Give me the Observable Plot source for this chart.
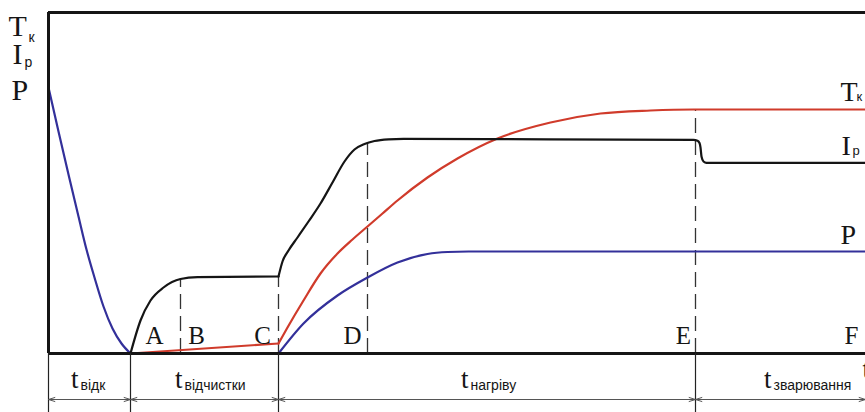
<!DOCTYPE html>
<html><head><meta charset="utf-8">
<script src="https://cdn.jsdelivr.net/npm/d3@7"></script>
<script src="https://cdn.jsdelivr.net/npm/@observablehq/plot@0.6"></script>
<style>html,body{margin:0;padding:0;background:#fff;overflow:hidden}</style>
</head><body><div id="chart"></div>
<script>
// ---- data (time in arbitrary units, value in arbitrary units) ----
// Force P
const P_fall_t = [0,10,20,30,38,46,55,64,73,82];
const P_fall_v = [266,222,179,137,104,76,47,25,10,0];
const P_rise_t = [230,255,289,319,349,379,399,420,817];
const P_rise_v = [0,30,58,76,91,99.5,101.5,102,102];
// Current Ip
const I_a_t = [82,92,102,115,132,149,230];
const I_a_v = [0,33,53,66,74.5,76.3,77];
const I_b_t = [230,234,240,249,260,272,284,296,306,316,326,340,355,500,645,649,651,652,653,655,658,817];
const I_b_v = [77,92,103,116,132,150,171,192,204,209.5,212.5,214.2,214.7,214.2,213.7,212.8,210.5,206,197,192,190.7,190.7];
// Temperature Tk
const T_a_t = [82,230];
const T_a_v = [0,10];
const T_b_t = [230,239,255,272,289,304,319,334,349,379,409,449,502,552,602,645,817];
const T_b_v = [10,26,53,80,100,114,127,140,153,176,195,215,231,240,243,244,244];

// stage markers
const markLetters = ["A","B","C","D","E","F"];
const letterTimes = [106,148,214,304,635,803];
const dashTimes = [132,230,319,647];
const dashTops  = [75,77,211,244];

// time intervals
const boundaries = [0,82,230,647,817];
const stageNames = ["відк","відчистки","нагріву","зварювання"];
const stageLabelTimes = [30,134,420,723];

// ---- helpers ----
const pts = (ts, vs, seg) => ts.map((t,i) => ({t, v: vs[i], seg}));
const P = [...pts(P_fall_t,P_fall_v,0), ...pts(P_rise_t,P_rise_v,1)];
const I = [...pts(I_a_t,I_a_v,0), ...pts(I_b_t,I_b_v,1)];
const T = [...pts(T_a_t,T_a_v,0), ...pts(T_b_t,T_b_v,1)];

const serif = "Liberation Serif, Times New Roman, serif";
const sans = "Liberation Sans, Arial, sans-serif";
const ink = "#151515";

const arrows = [];
for (let i = 0; i < boundaries.length - 1; i++) {
  const m = (boundaries[i] + boundaries[i+1]) / 2;
  arrows.push({from: m, to: boundaries[i]}, {from: m, to: boundaries[i+1]});
}
const stages = stageNames.map((s,i) => ({s, t: stageLabelTimes[i]}));
const letters = markLetters.map((s,i) => ({s, t: letterTimes[i]}));
const dashes = dashTimes.map((t,i) => ({t, top: dashTops[i]}));
const endOf = arr => arr[arr.length-1];

const txt = (data, o) => Plot.text(data, {lineAnchor: "bottom", fill: ink, ...o});

const chart = Plot.plot({
  width: 865, height: 412, margin: 0,
  x: {domain: [0, 817], range: [48, 865], axis: null},
  y: {domain: [0, 341], range: [353, 12], axis: null},
  marks: [
    Plot.ruleX(dashes, {x: "t", y1: 0, y2: "top", stroke: "#333", strokeWidth: 1.3, strokeDasharray: "15,7"}),
    Plot.line(P, {x: "t", y: "v", z: "seg", stroke: "#33309a", strokeWidth: 2.2, curve: "monotone-x"}),
    Plot.line(T, {x: "t", y: "v", z: "seg", stroke: "#d03b2b", strokeWidth: 2.2, curve: "monotone-x"}),
    Plot.line(I, {x: "t", y: "v", z: "seg", stroke: ink, strokeWidth: 2.2, curve: "monotone-x"}),
    // frame
    Plot.ruleY([341], {x1: 0, x2: 817, stroke: ink, strokeWidth: 3}),
    Plot.ruleY([0], {x1: 0, x2: 817, stroke: ink, strokeWidth: 3}),
    Plot.ruleX([0], {y1: 0, y2: 341, stroke: ink, strokeWidth: 3}),
    Plot.ruleX(boundaries.slice(0, -1), {y1: -59, y2: 0, stroke: "#222", strokeWidth: 1.2}),
    Plot.arrow(arrows, {x1: "from", x2: "to", y1: -46, y2: -46, stroke: "#555", strokeWidth: 1, headLength: 10, headAngle: 35}),
    // letters A-F
    txt(letters, {x: "t", y: 0, dy: -10, text: "s", fontSize: 25, fontFamily: serif}),
    // stage labels
    txt(stages, {x: "t", y: 0, dy: 34, text: () => "t", textAnchor: "end", fontSize: 27, fontFamily: serif}),
    txt(stages, {x: "t", y: 0, dy: 36, dx: 2, text: "s", textAnchor: "start", fontSize: 14, fontFamily: sans}),
    txt(["t"], {x: 817, y: 0, dy: 24, dx: -3, text: d => d, textAnchor: "start", fontSize: 27, fontFamily: serif}),
    // right curve labels
    txt(["T"], {x: 792, y: endOf(T_b_v), dy: -9, text: d => d, textAnchor: "start", fontSize: 28, fontFamily: serif}),
    txt(["к"], {x: 792, y: endOf(T_b_v), dy: -9, dx: 16, text: d => d, textAnchor: "start", fontSize: 13, fontFamily: sans}),
    txt(["I"], {x: 793, y: endOf(I_b_v), dy: -8, text: d => d, textAnchor: "start", fontSize: 28, fontFamily: serif}),
    txt(["р"], {x: 793, y: endOf(I_b_v), dy: -8, dx: 11, text: d => d, textAnchor: "start", fontSize: 13, fontFamily: sans}),
    txt(["P"], {x: 792, y: endOf(P_rise_v), dy: -8, text: d => d, textAnchor: "start", fontSize: 28, fontFamily: serif}),
    // left axis title
    txt(["T"], {frameAnchor: "top-left", dx: 8, dy: 35, text: d => d, textAnchor: "start", fontSize: 30, fontFamily: serif}),
    txt(["к"], {frameAnchor: "top-left", dx: 28, dy: 41, text: d => d, textAnchor: "start", fontSize: 14, fontFamily: sans}),
    txt(["I"], {frameAnchor: "top-left", dx: 12, dy: 63, text: d => d, textAnchor: "start", fontSize: 30, fontFamily: serif}),
    txt(["р"], {frameAnchor: "top-left", dx: 24, dy: 66, text: d => d, textAnchor: "start", fontSize: 14, fontFamily: sans}),
    txt(["P"], {frameAnchor: "top-left", dx: 11, dy: 99, text: d => d, textAnchor: "start", fontSize: 30, fontFamily: serif})
  ]
});
document.getElementById("chart").appendChild(chart);
</script>
</body></html>
